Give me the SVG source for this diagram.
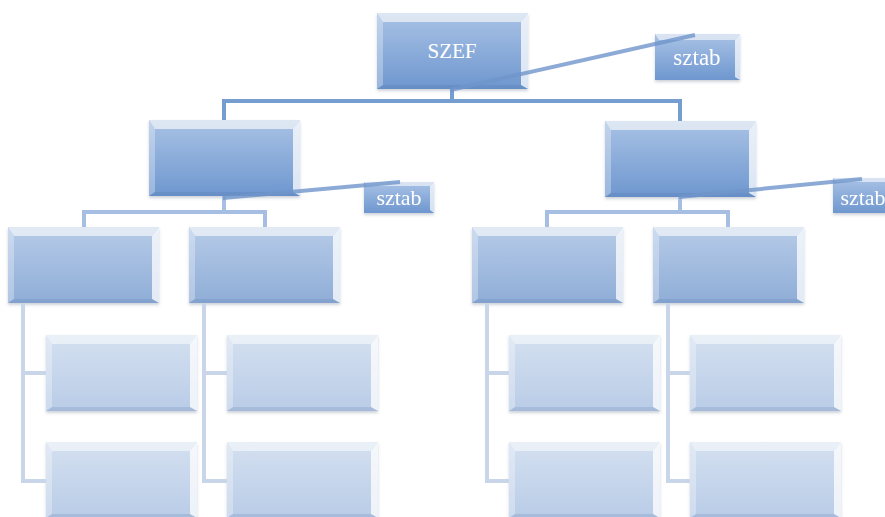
<svg xmlns="http://www.w3.org/2000/svg" xmlns:xlink="http://www.w3.org/1999/xlink" width="885" height="517" viewBox="0 0 885 517">
  <defs>
    <linearGradient id="gTop" x1="0" y1="0" x2="0" y2="1">
      <stop offset="0" stop-color="#a9c2e5"/>
      <stop offset="1" stop-color="#6e97cf"/>
    </linearGradient>
    <linearGradient id="gMid" x1="0" y1="0" x2="0" y2="1">
      <stop offset="0" stop-color="#b6cbe8"/>
      <stop offset="1" stop-color="#8fadd7"/>
    </linearGradient>
    <linearGradient id="gLow" x1="0" y1="0" x2="0" y2="1">
      <stop offset="0" stop-color="#d4e0f0"/>
      <stop offset="1" stop-color="#b9cce7"/>
    </linearGradient>
    <filter id="shadow" x="-10%" y="-10%" width="120%" height="130%">
      <feDropShadow dx="0" dy="2" stdDeviation="1.5" flood-color="#5a6a80" flood-opacity="0.3"/>
    </filter>
    <!-- bevelled box, 151 x 76; base fill comes from the <use> -->
    <g id="box">
      <rect x="0" y="0" width="151" height="76"/>
      <polygon points="0,0 151,0 144,9 6,9" fill="#f4f6fa" fill-opacity="0.7"/>
      <polygon points="0,0 6,9 6,72 0,76" fill="#ffffff" fill-opacity="0.3"/>
      <polygon points="151,0 151,76 144,72 144,9" fill="#ffffff" fill-opacity="0.75"/>
      <polygon points="0,76 6,72 144,72 151,76" fill="#3a5f95" fill-opacity="0.15"/>
    </g>
  </defs>
  <style>
    .lv1 { fill: url(#gTop); filter: url(#shadow); }
    .lv2 { fill: url(#gMid); filter: url(#shadow); }
    .lv3 { fill: url(#gLow); filter: url(#shadow); }
    .tab { fill: url(#gTop); }
    .hi { fill: #f4f6fa; fill-opacity: 0.65; }
    .hs { fill: #ffffff; fill-opacity: 0.7; }
    .lbl { font-family: "Liberation Serif", "DejaVu Serif", serif; fill: #ffffff; text-anchor: middle; }
    .c1 { fill: none; stroke: #769dd0; stroke-width: 4; }
    .c2 { fill: none; stroke: #a6bee1; stroke-width: 4; }
    .c3 { fill: none; stroke: #c9d6ea; stroke-width: 4; }
    .diag { fill: none; stroke: #6f95cb; stroke-width: 4; stroke-opacity: 0.8; }
  </style>

  <rect width="885" height="517" fill="#ffffff"/>

  <!-- top node -->
  <g id="szef">
    <use xlink:href="#box" x="377" y="13" class="lv1"/>
    <text class="lbl" x="452" y="58" font-size="21">SZEF</text>
  </g>

  <!-- staff boxes -->
  <g id="sztab-top" filter="url(#shadow)">
    <rect x="655" y="34" width="85" height="46" class="tab"/>
    <polygon points="655,34 740,34 735,40 659,40" class="hi"/>
    <polygon points="740,34 740,80 735,77 735,40" class="hs"/>
    <text class="lbl" x="697" y="65" font-size="23">sztab</text>
  </g>
  <g id="sztab-left" filter="url(#shadow)">
    <rect x="364" y="182" width="70" height="31" class="tab"/>
    <polygon points="364,182 434,182 430,186 367,186" class="hi"/>
    <polygon points="434,182 434,213 430,210 430,186" class="hs"/>
    <text class="lbl" x="399" y="205" font-size="22">sztab</text>
  </g>
  <g id="sztab-right" filter="url(#shadow)">
    <rect x="833" y="178" width="70" height="35" class="tab"/>
    <polygon points="833,178 903,178 899,182 836,182" class="hi"/>
    <text class="lbl" x="863" y="205" font-size="22">sztab</text>
  </g>

  <!-- second level -->
  <g id="n-left"><use xlink:href="#box" x="149" y="120" class="lv1"/></g>
  <g id="n-right"><use xlink:href="#box" x="605" y="121" class="lv1"/></g>

  <!-- third level -->
  <g id="n-l1"><use xlink:href="#box" x="8" y="227" class="lv2"/></g>
  <g id="n-l2"><use xlink:href="#box" x="189" y="227" class="lv2"/></g>
  <g id="n-r1"><use xlink:href="#box" x="472" y="227" class="lv2"/></g>
  <g id="n-r2"><use xlink:href="#box" x="653" y="227" class="lv2"/></g>

  <!-- fourth level -->
  <g id="n-l1a"><use xlink:href="#box" x="46" y="335" class="lv3"/></g>
  <g id="n-l1b"><use xlink:href="#box" x="46" y="442" class="lv3"/></g>
  <g id="n-l2a"><use xlink:href="#box" x="227" y="335" class="lv3"/></g>
  <g id="n-l2b"><use xlink:href="#box" x="227" y="442" class="lv3"/></g>
  <g id="n-r1a"><use xlink:href="#box" x="509" y="335" class="lv3"/></g>
  <g id="n-r1b"><use xlink:href="#box" x="509" y="442" class="lv3"/></g>
  <g id="n-r2a"><use xlink:href="#box" x="690" y="335" class="lv3"/></g>
  <g id="n-r2b"><use xlink:href="#box" x="690" y="442" class="lv3"/></g>

  <!-- connectors -->
  <g id="connectors">
    <path class="c1" d="M452 89 V101 H224 V120 M452 101 H680 V121"/>
    <path class="c2" d="M224 196 V212 H84 V227 M224 212 H265 V227"/>
    <path class="c2" d="M680 197 V212 H547 V227 M680 212 H728 V227"/>
    <path class="c3" d="M23 303 V481 H46 M23 373 H46"/>
    <path class="c3" d="M204 303 V481 H227 M204 373 H227"/>
    <path class="c3" d="M487 303 V481 H509 M487 373 H509"/>
    <path class="c3" d="M668 303 V481 H690 M668 373 H690"/>
    <path class="diag" d="M450 90 L695 35"/>
    <path class="diag" d="M223 198 L400 182"/>
    <path class="diag" d="M679 197 L862 179"/>
  </g>
</svg>
